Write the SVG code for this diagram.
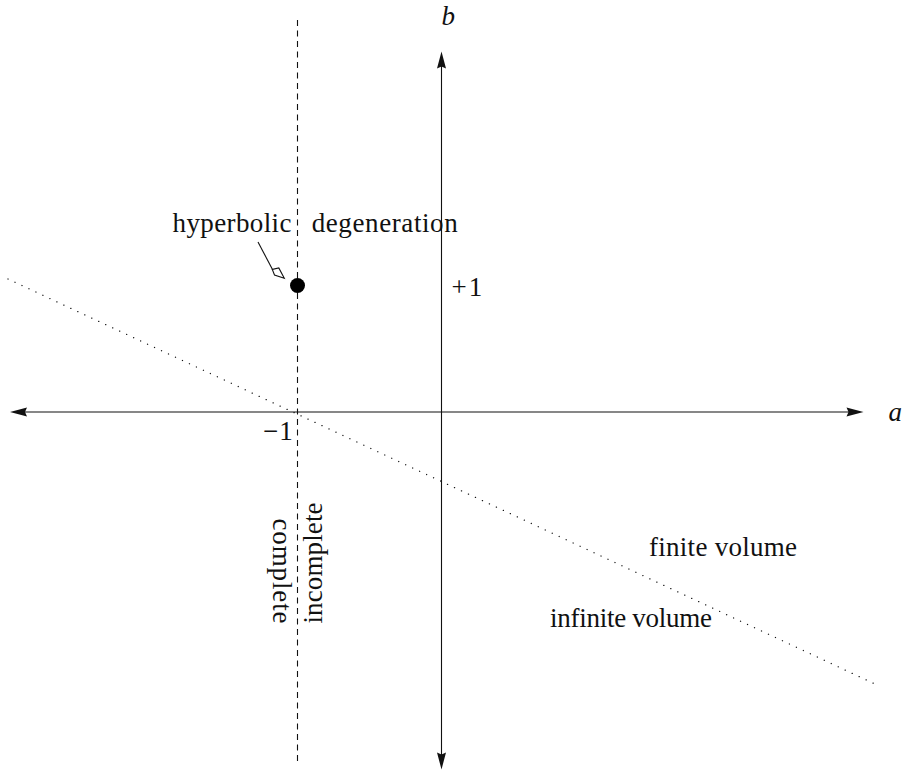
<svg xmlns="http://www.w3.org/2000/svg" width="902" height="770" viewBox="0 0 902 770">
<defs>
<style>
.t{font-family:"Liberation Serif","Times New Roman",serif;font-size:27px;fill:#111;}
.i{font-style:italic;}
.ax{stroke:#111;stroke-width:1.1;fill:none;}
.ah{fill:#111;stroke:none;}
</style>
</defs>
<rect width="902" height="770" fill="#fff"/>
<g id="connectors">
<line id="dotted" x1="8" y1="279" x2="875" y2="684" stroke="#111" stroke-width="1.3" stroke-linecap="round" stroke-dasharray="0.1 7.6"/>
<line id="dashed" x1="297.5" y1="20" x2="297.5" y2="762" stroke="#111" stroke-width="1.1" stroke-dasharray="6 4.5"/>
<line class="ax" x1="24" y1="412" x2="850" y2="412"/>
<path class="ah" d="M10,412 L27,407.5 L25,412 L27,416.5 Z"/>
<path class="ah" d="M863.5,412 L846.5,407.5 L848.5,412 L846.5,416.5 Z"/>
<line class="ax" x1="441.5" y1="66" x2="441.5" y2="755"/>
<path class="ah" d="M441.5,51.5 L437,68.5 L441.5,66.5 L446,68.5 Z"/>
<path class="ah" d="M441.5,769.5 L437,752.5 L441.5,754.5 L446,752.5 Z"/>
<line x1="258" y1="242" x2="272.5" y2="269.5" stroke="#111" stroke-width="1.1"/>
<path d="M284.3,278.3 L274.5,275 L272.3,269.5 L278.8,268 Z" fill="#fff" stroke="#111" stroke-width="1.1" stroke-linejoin="miter"/>
</g>
<g id="point">
<circle cx="297.5" cy="285.5" r="7.5" fill="#000"/>
</g>
<g id="labels">
<text class="t" x="172.5" y="232" textLength="119" lengthAdjust="spacing">hyperbolic</text>
<text class="t" x="311.7" y="232" textLength="146" lengthAdjust="spacing">degeneration</text>
<text class="t" x="451.5" y="296">+<tspan dx="2">1</tspan></text>
<text class="t" x="263" y="440">−<tspan dx="1">1</tspan></text>
<text class="t i" x="441.5" y="25">b</text>
<text class="t i" x="888.5" y="421">a</text>
<text class="t" transform="translate(272.5,518.5) rotate(90)" textLength="105" lengthAdjust="spacing">complete</text>
<text class="t" transform="translate(322,623.5) rotate(-90)" textLength="121" lengthAdjust="spacing">incomplete</text>
<text class="t" x="649" y="556" textLength="148" lengthAdjust="spacing">finite volume</text>
<text class="t" x="550" y="627" textLength="162" lengthAdjust="spacing">infinite volume</text>
</g>
</svg>
